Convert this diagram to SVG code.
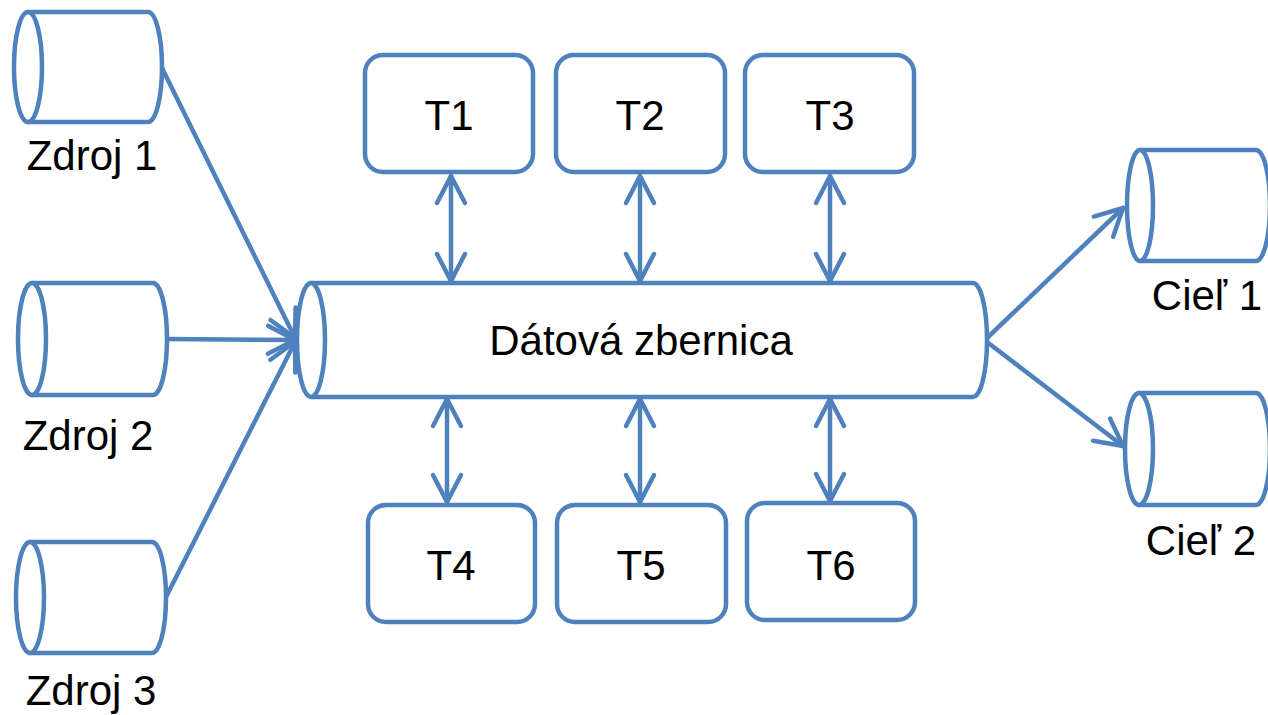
<svg xmlns="http://www.w3.org/2000/svg" width="1268" height="715" viewBox="0 0 1268 715">
  <style>
    .shape { fill: #ffffff; stroke: #4F81BD; stroke-width: 4.5; stroke-linejoin: round; }
    .wire { fill: none; stroke: #4F81BD; stroke-width: 4.5; stroke-linecap: round; }
    .label { font-family: "Liberation Sans", Arial, sans-serif; font-size: 42px; fill: #000000; }
    .mid { text-anchor: middle; }
  </style>
  <defs>
    <marker id="head" markerUnits="userSpaceOnUse" markerWidth="40" markerHeight="40" viewBox="-32 -20 40 40" refX="0" refY="0" orient="auto-start-reverse" overflow="visible">
      <path d="M-27,-14 L0,0 L-27,14" fill="none" stroke="#4F81BD" stroke-width="4.5" stroke-linecap="round" stroke-linejoin="round"/>
    </marker>
  </defs>

  <!-- connectors -->
  <g id="connectors">
    <line class="wire" x1="162" y1="68" x2="295" y2="338" marker-end="url(#head)"/>
    <line class="wire" x1="167" y1="339" x2="295" y2="340" marker-end="url(#head)"/>
    <line class="wire" x1="166" y1="597" x2="295" y2="342" marker-end="url(#head)"/>
    <line class="wire" x1="987" y1="338" x2="1123" y2="208" marker-end="url(#head)"/>
    <line class="wire" x1="987" y1="342" x2="1123" y2="446" marker-end="url(#head)"/>
    <line class="wire" x1="451" y1="176" x2="451" y2="281" marker-start="url(#head)" marker-end="url(#head)"/>
    <line class="wire" x1="640" y1="176" x2="640" y2="281" marker-start="url(#head)" marker-end="url(#head)"/>
    <line class="wire" x1="830" y1="176" x2="830" y2="281" marker-start="url(#head)" marker-end="url(#head)"/>
    <line class="wire" x1="447" y1="399" x2="447" y2="502" marker-start="url(#head)" marker-end="url(#head)"/>
    <line class="wire" x1="640" y1="399" x2="640" y2="502" marker-start="url(#head)" marker-end="url(#head)"/>
    <line class="wire" x1="830" y1="399" x2="830" y2="501" marker-start="url(#head)" marker-end="url(#head)"/>
  </g>

  <!-- sources -->
  <g id="zdroj1">
    <path class="shape" d="M28,12 H148 A14,55 0 0 1 148,122 H28 Z"/>
    <ellipse class="shape" cx="28" cy="67" rx="14" ry="55"/>
    <text class="label mid" x="92" y="170">Zdroj 1</text>
  </g>
  <g id="zdroj2">
    <path class="shape" d="M32,283 H153 A14,56 0 0 1 153,395 H32 Z"/>
    <ellipse class="shape" cx="32" cy="339" rx="14" ry="56"/>
    <text class="label mid" x="88" y="450">Zdroj 2</text>
  </g>
  <g id="zdroj3">
    <path class="shape" d="M30,542 H152 A14,55.5 0 0 1 152,653 H30 Z"/>
    <ellipse class="shape" cx="30" cy="597.5" rx="14" ry="55.5"/>
    <text class="label mid" x="91" y="705">Zdroj 3</text>
  </g>

  <!-- data bus -->
  <g id="bus">
    <path class="shape" d="M311,283 H973 A14,57 0 0 1 973,397 H311 Z"/>
    <ellipse class="shape" cx="311" cy="340" rx="14" ry="57"/>
    <text class="label mid" x="641" y="355">Dátová zbernica</text>
  </g>

  <!-- transformations -->
  <g id="t1">
    <rect class="shape" x="365" y="55" width="168" height="117" rx="18"/>
    <text class="label mid" x="449" y="130">T1</text>
  </g>
  <g id="t2">
    <rect class="shape" x="556" y="55" width="169" height="117" rx="18"/>
    <text class="label mid" x="640" y="130">T2</text>
  </g>
  <g id="t3">
    <rect class="shape" x="745" y="55" width="169" height="117" rx="18"/>
    <text class="label mid" x="830" y="130">T3</text>
  </g>
  <g id="t4">
    <rect class="shape" x="368" y="505" width="167" height="117" rx="18"/>
    <text class="label mid" x="451" y="580">T4</text>
  </g>
  <g id="t5">
    <rect class="shape" x="557" y="505" width="169" height="117" rx="18"/>
    <text class="label mid" x="641" y="580">T5</text>
  </g>
  <g id="t6">
    <rect class="shape" x="747" y="503" width="168" height="117" rx="18"/>
    <text class="label mid" x="831" y="580">T6</text>
  </g>

  <!-- targets -->
  <g id="ciel1">
    <path class="shape" d="M1140,150 H1256 A14,55.5 0 0 1 1256,261 H1140 Z"/>
    <ellipse class="shape" cx="1140" cy="205.5" rx="13" ry="55.5"/>
    <text class="label mid" x="1207" y="310">Cieľ 1</text>
  </g>
  <g id="ciel2">
    <path class="shape" d="M1139,393 H1256 A14,56 0 0 1 1256,505 H1139 Z"/>
    <ellipse class="shape" cx="1139" cy="449" rx="14" ry="56"/>
    <text class="label mid" x="1201" y="555">Cieľ 2</text>
  </g>
</svg>
